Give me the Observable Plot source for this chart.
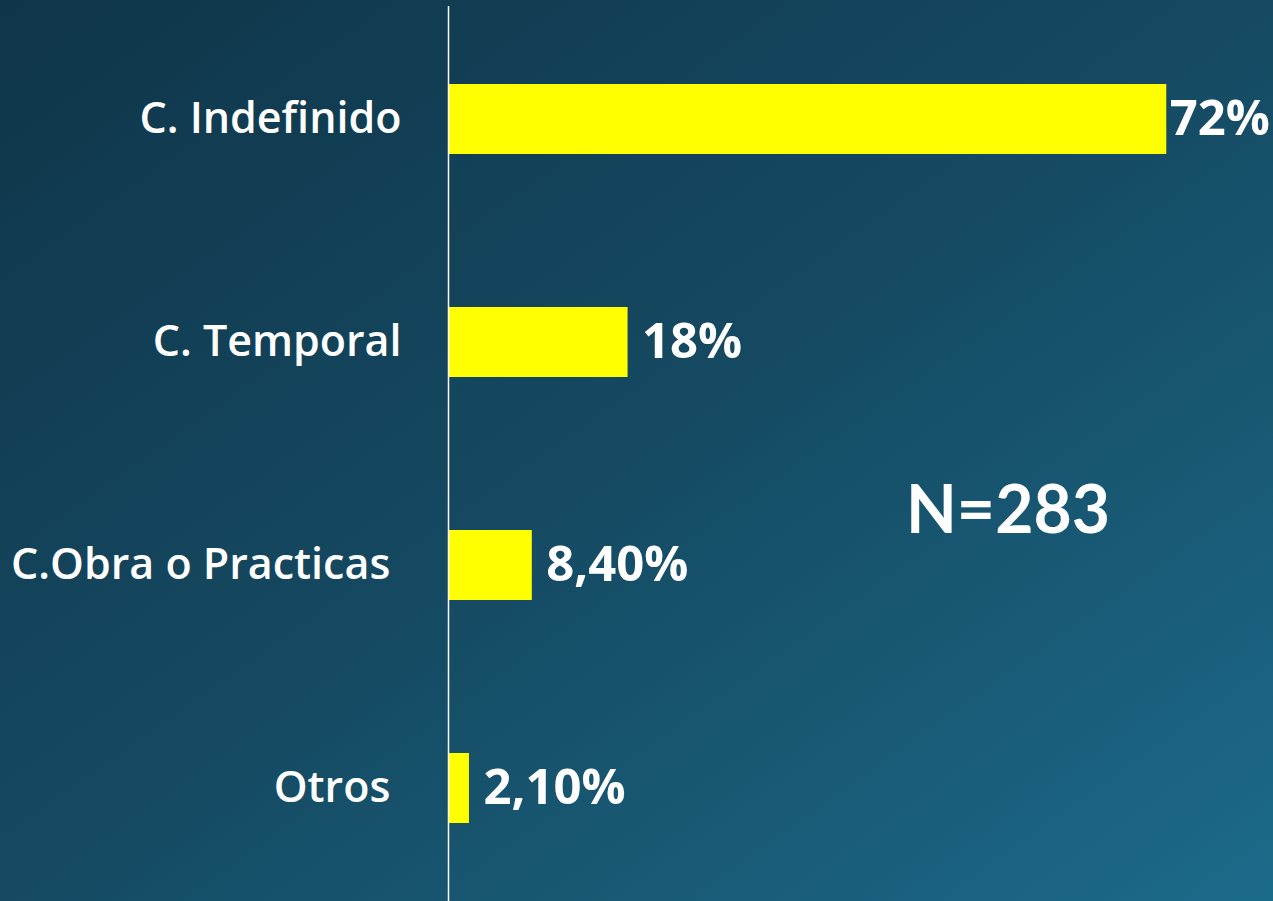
<!DOCTYPE html>
<html>
<head>
<meta charset="utf-8">
<script src="https://cdn.jsdelivr.net/npm/d3@7"></script>
<script src="https://cdn.jsdelivr.net/npm/@observablehq/plot@0.6"></script>
<style>
  html, body { margin: 0; padding: 0; width: 1273px; height: 901px; overflow: hidden; }
  body { background: linear-gradient(to bottom right, #0f3549 0%, #154a62 50%, #1c6a8a 100%); font-family: "Open Sans", Lato, sans-serif; }
  #chart svg { display: block; background: transparent; }
</style>
</head>
<body>
<div id="chart"></div>
<script>
const categories = ["C. Indefinido", "C. Temporal", "C.Obra o Practicas\u00A0", "Otros\u00A0"];
const values = [72, 18, 8.4, 2.1];
const valueLabels = ["72%", "18%", "8,40%", "2,10%"];
const note = "N=283";

const data = categories.map((c, i) => ({category: c, value: values[i], label: valueLabels[i]}));

const chart = Plot.plot({
  width: 1273,
  height: 901,
  marginLeft: 448,
  marginRight: 0,
  marginTop: 6,
  marginBottom: 0,
  style: {background: "transparent", color: "white", fontFamily: "'Open Sans', Lato, sans-serif"},
  x: {domain: [0, 82.7], axis: null},
  y: {domain: categories, paddingInner: 0.6875, paddingOuter: 0.34375, label: null},
  marks: [
    Plot.barX(data, {x: "value", y: "category", fill: "#ffff00"}),
    Plot.ruleX([0], {stroke: "white", strokeWidth: 1.5}),
    Plot.axisY({tickSize: 0, tickPadding: 47, fontSize: 43, fontWeight: 600, fill: "white", label: null}),
    Plot.text(data.slice(0, 1), {x: "value", y: "category", text: "label", textAnchor: "start", dx: 3, fontSize: 49, fontWeight: "bold", fill: "white"}),
    Plot.text(data.slice(1), {x: "value", y: "category", text: "label", textAnchor: "start", dx: 14, fontSize: 49, fontWeight: "bold", fill: "white"}),
    Plot.text([note], {frameAnchor: "middle", dx: 147, dy: 58, fontSize: 66, fontWeight: "bold", fill: "white", fontFamily: "Lato, sans-serif"})
  ]
});
document.getElementById("chart").appendChild(chart);
</script>
</body>
</html>
